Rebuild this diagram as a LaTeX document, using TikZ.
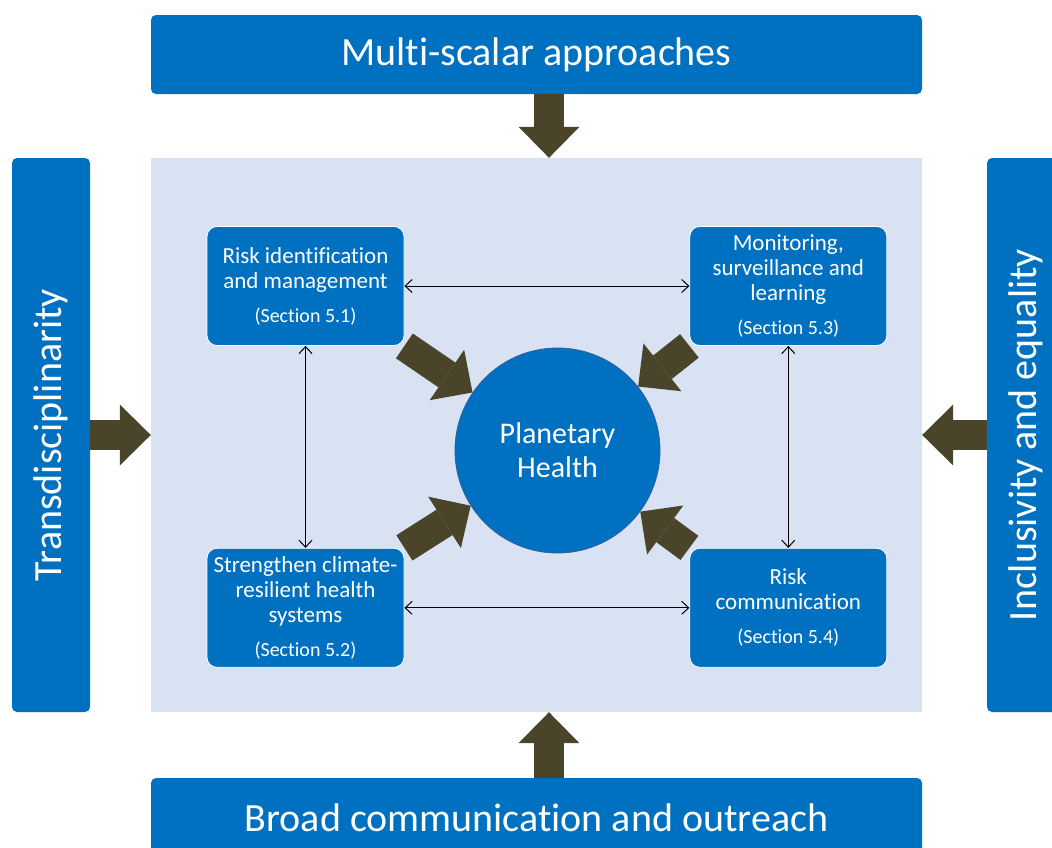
\documentclass[tikz,border=0pt]{standalone}
\usepackage{fontspec}
\setmainfont{Carlito}[Ligatures=NoCommon]
\usetikzlibrary{arrows.meta, positioning}

\definecolor{barblue}{HTML}{0070C0}
\definecolor{panelblue}{HTML}{D8E2F2}
\definecolor{arrowolive}{HTML}{4A452A}
\definecolor{coreedge}{HTML}{2F5F9A}

\newcommand{\sectag}[1]{\\[9pt]{\fontsize{20}{25}\selectfont(Section #1)}}

\begin{document}
\begin{tikzpicture}[
  x=1pt, y=-1pt,
  every node/.style={text=white, inner sep=0pt},
  bar/.style={fill=barblue, rounded corners=5pt, font=\fontsize{40}{44}\selectfont},
  hbar/.style={bar, minimum width=771pt, minimum height=79pt},
  vbar/.style={bar, rotate=90, minimum width=554pt, minimum height=78pt},
  panel/.style={fill=panelblue, minimum width=771pt, minimum height=554pt},
  theme/.style={draw=white, line width=0.8pt, fill=barblue, rounded corners=10pt, minimum width=197pt, minimum height=119pt, align=center, font=\fontsize{23}{25}\selectfont},
  core/.style={circle, draw=coreedge, line width=0.8pt, fill=barblue, minimum size=205pt, align=center, font=\fontsize{30}{34}\selectfont},
  link/.style={{Straight Barb[length=7pt,width=13pt]}-{Straight Barb[length=7pt,width=13pt]}, line width=1pt},
  push/.style={draw=arrowolive, line width=30pt, -{Triangle[length=31pt,width=61pt,line width=0pt]}}
]
\path[use as bounding box, clip] (0,0) rectangle (1052,847);

% Frame
\node[panel] (panel) at (536.5,435) {};
\node[hbar] (scale) at (536.5,54.5) {Multi-scalar approaches};
\node[hbar] (outreach) at (536.5,817.5) {Broad communication and outreach};
\node[vbar] (transd) at (51,435) {Transdisciplinarity};
\node[vbar] (equal) at (1026,435) {Inclusivity and equality};

% Themes round the centre
\node[theme] (riskid) at (305.5,286) {Risk identification\\and management\sectag{5.1}};
\node[theme, below=202pt of riskid] (resil) {Strengthen climate-\\resilient health\\systems\sectag{5.2}};
\node[theme, right=285pt of riskid] (monit) {Monitoring,\\surveillance and\\learning\sectag{5.3}};
\node[theme, right=285pt of resil] (riskcom) {Risk\\communication\sectag{5.4}};
\node[core] (ph) at (557.5,450.5) {Planetary\\Health};

% Links between themes
\draw[link] (riskid) -- (monit);
\draw[link] (resil) -- (riskcom);
\draw[link] (riskid) -- (resil);
\draw[link] (monit) -- (riskcom);

% Big arrows
\draw[push] ([xshift=12.5pt]scale.south) -- ([xshift=12.5pt]panel.north);
\draw[push] ([xshift=12.5pt]outreach.north) -- ([xshift=12.5pt]panel.south);
\draw[push] (transd.south) -- (panel.west);
\draw[push] (equal.north) -- (panel.east);
\draw[push] (riskid.south east) -- (ph);
\draw[push] (monit.south west) -- (ph);
\draw[push] (resil.north east) -- (ph);
\draw[push] (riskcom.north west) -- (ph);
\end{tikzpicture}
\end{document}
